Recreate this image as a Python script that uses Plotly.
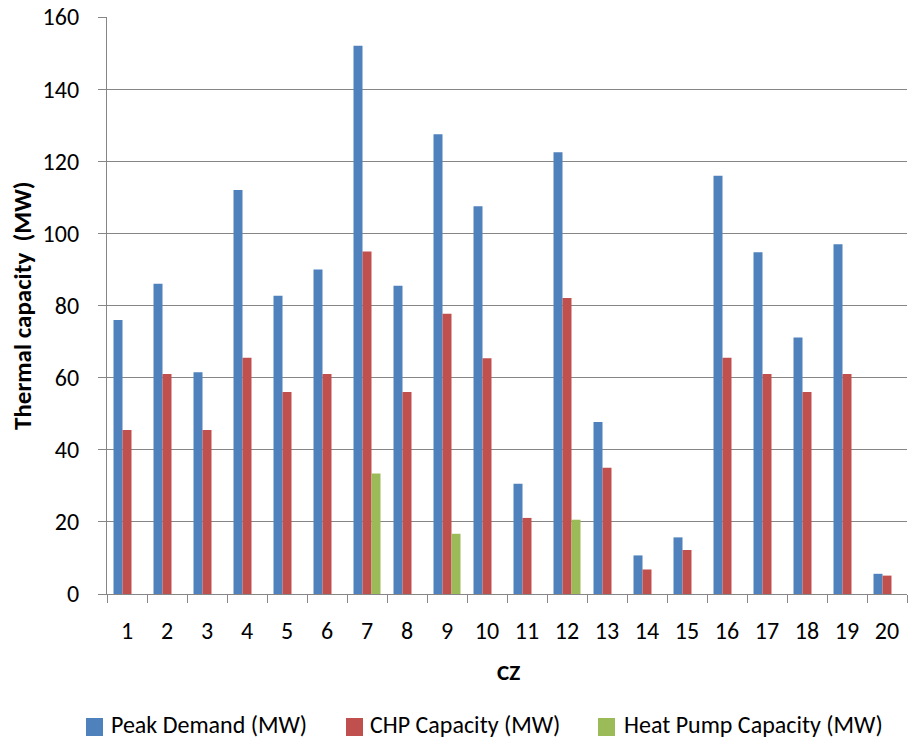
import plotly.graph_objects as go

# Thermal capacity per climate zone (MW)
zones = [str(i) for i in range(1, 21)]
peak_demand = [76.0, 86.0, 61.5, 112.0, 82.7, 90.0, 152.0, 85.5, 127.5, 107.5,
               30.6, 122.5, 47.7, 10.7, 15.7, 116.0, 94.8, 71.1, 97.0, 5.6]
chp_capacity = [45.5, 61.0, 45.5, 65.5, 56.0, 61.0, 95.0, 56.0, 77.7, 65.4,
                21.1, 82.1, 35.0, 6.8, 12.2, 65.5, 61.0, 56.0, 61.0, 5.1]
heat_pump_capacity = [0, 0, 0, 0, 0, 0, 33.4, 0, 16.7, 0,
                      0, 20.6, 0, 0, 0, 0, 0, 0, 0, 0]
y_ticks = [0, 20, 40, 60, 80, 100, 120, 140, 160]

series_names = ["Peak Demand (MW)", "CHP Capacity (MW)", "Heat Pump Capacity (MW)"]
series_values = [peak_demand, chp_capacity, heat_pump_capacity]
series_colors = ["#4F81BD", "#C0504D", "#9BBB59"]

FONT = "Calibri, Carlito, Lato, sans-serif"
GRID = "#868686"

W, H = 909, 742
L, R, T, B = 107, 2, 17, 148
PW, PH = W - L - R, H - T - B


def px_x(px):
    return (px - L) / PW


def px_y(py):
    return 1 - (py - T) / PH


fig = go.Figure()
for name, vals, col in zip(series_names, series_values, series_colors):
    fig.add_trace(go.Bar(x=zones, y=vals, name=name,
                         marker=dict(color=col, line=dict(width=0)),
                         showlegend=False))

fig.update_layout(
    width=W, height=H,
    margin=dict(l=L, r=R, t=T, b=B, pad=0),
    paper_bgcolor="white", plot_bgcolor="white",
    barmode="group", bargap=0.325, bargroupgap=0,
    font=dict(family=FONT, size=23, color="black"),
)

fig.update_xaxes(
    type="category", tickson="boundaries",
    showline=True, linecolor=GRID, linewidth=1.3,
    ticks="outside", ticklen=8, tickcolor=GRID, tickwidth=1.3,
    showgrid=False, ticklabelstandoff=15,
    tickfont=dict(family=FONT, size=24, color="black"),
)
fig.update_yaxes(
    range=[0, 160], tickvals=y_ticks,
    showline=True, linecolor=GRID, linewidth=1.3,
    ticks="outside", ticklen=8, tickcolor=GRID, tickwidth=1.3,
    showgrid=True, gridcolor=GRID, gridwidth=1.3,
    zeroline=False, ticklabelstandoff=14,
    tickfont=dict(family=FONT, size=24, color="black"),
)

annotations = [
    dict(text="<b>CZ</b>", x=px_x(508), y=px_y(672), xref="paper", yref="paper",
         showarrow=False, xanchor="center", yanchor="middle",
         font=dict(family=FONT, size=23, color="black")),
    dict(text="<b>Thermal capacity\u00a0\u00a0(MW)</b>", x=px_x(22), y=px_y(306),
         xref="paper", yref="paper", textangle=-90,
         showarrow=False, xanchor="center", yanchor="middle",
         font=dict(family=FONT, size=25, color="black")),
]

# legend row along the bottom
legend_square_x = [86, 346, 598]
legend_text_x = [110, 369, 623]
legend_y = 727
shapes = []
for name, col, sx, tx in zip(series_names, series_colors, legend_square_x, legend_text_x):
    shapes.append(dict(type="rect", xref="paper", yref="paper",
                       x0=px_x(sx), x1=px_x(sx + 17),
                       y0=px_y(legend_y - 9), y1=px_y(legend_y + 9),
                       fillcolor=col, line=dict(width=0)))
    annotations.append(dict(text=name, x=px_x(tx), y=px_y(740),
                            xref="paper", yref="paper", showarrow=False,
                            xanchor="left", yanchor="bottom",
                            borderpad=0,
                            font=dict(family=FONT, size=24, color="black")))

fig.update_layout(annotations=annotations, shapes=shapes)

fig.write_html("out.html")
